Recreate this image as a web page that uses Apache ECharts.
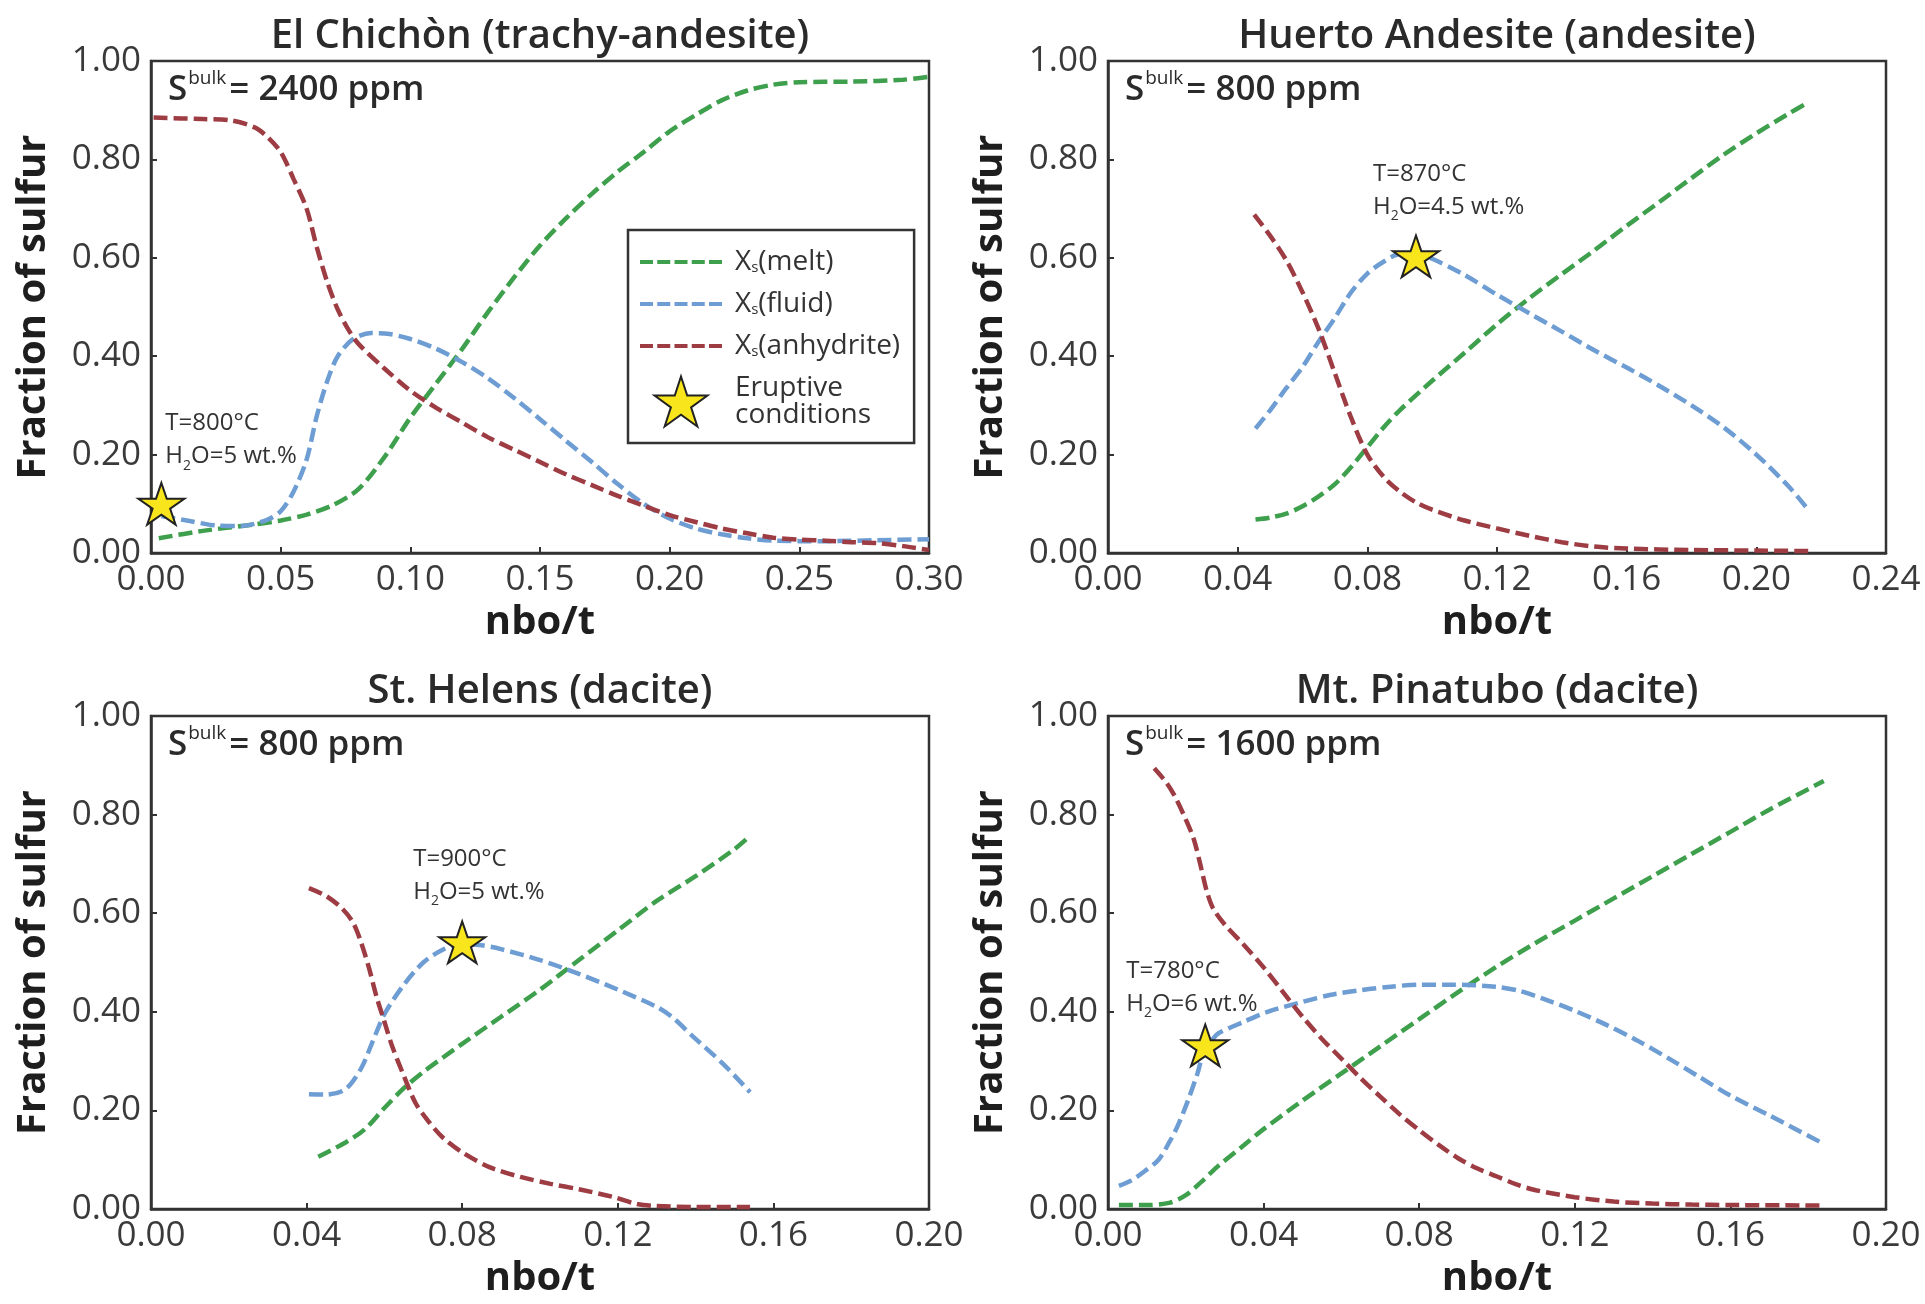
<!DOCTYPE html>
<html>
<head>
<meta charset="utf-8">
<title>Sulfur partitioning vs nbo/t</title>
<script src="https://cdn.jsdelivr.net/npm/echarts/dist/echarts.min.js"></script>
<style>
  html, body { margin: 0; padding: 0; background: #ffffff; }
  #chart { width: 1925px; height: 1304px; }
</style>
</head>
<body>
<div id="chart"></div>
<script>
// ---------------- data ----------------
const panelTitles = ['El Chichòn (trachy-andesite)', 'Huerto Andesite (andesite)', 'St. Helens (dacite)', 'Mt. Pinatubo (dacite)'];
const bulkSulfurPpm = ['2400', '800', '800', '1600'];
const xMaxValues = [0.30, 0.24, 0.20, 0.20];
const xIntervals = [0.05, 0.04, 0.04, 0.04];
const yTickStep = 0.2;

// El Chichòn
const chichonMelt = [[0.003,0.030],[0.02,0.045],[0.04,0.058],[0.05,0.066],[0.06,0.078],[0.07,0.097],[0.08,0.130],[0.09,0.195],[0.10,0.275],[0.11,0.345],[0.12,0.415],[0.13,0.49],[0.14,0.56],[0.15,0.625],[0.16,0.68],[0.17,0.73],[0.18,0.775],[0.19,0.815],[0.20,0.857],[0.21,0.89],[0.22,0.92],[0.23,0.94],[0.24,0.952],[0.25,0.957],[0.27,0.958],[0.29,0.962],[0.30,0.968]];
const chichonFluid = [[0.004,0.075],[0.015,0.065],[0.025,0.056],[0.035,0.055],[0.045,0.068],[0.05,0.085],[0.055,0.125],[0.06,0.19],[0.064,0.28],[0.068,0.35],[0.072,0.40],[0.078,0.435],[0.085,0.447],[0.092,0.445],[0.10,0.435],[0.11,0.415],[0.12,0.388],[0.13,0.355],[0.14,0.315],[0.15,0.272],[0.16,0.228],[0.17,0.185],[0.18,0.14],[0.19,0.10],[0.20,0.07],[0.21,0.05],[0.22,0.038],[0.23,0.03],[0.24,0.025],[0.26,0.024],[0.28,0.026],[0.30,0.028]];
const chichonAnhydrite = [[0.001,0.885],[0.02,0.882],[0.03,0.88],[0.04,0.865],[0.045,0.845],[0.05,0.815],[0.055,0.76],[0.06,0.70],[0.064,0.62],[0.068,0.55],[0.072,0.495],[0.076,0.455],[0.08,0.425],[0.09,0.375],[0.10,0.33],[0.11,0.295],[0.12,0.265],[0.13,0.235],[0.14,0.21],[0.15,0.185],[0.16,0.16],[0.17,0.138],[0.18,0.116],[0.19,0.096],[0.20,0.077],[0.21,0.063],[0.22,0.05],[0.23,0.04],[0.24,0.031],[0.25,0.027],[0.26,0.025],[0.27,0.022],[0.28,0.02],[0.29,0.014],[0.30,0.006]];

// Huerto Andesite
const huertoMelt = [[0.0455,0.068],[0.05,0.072],[0.055,0.08],[0.06,0.095],[0.065,0.115],[0.07,0.14],[0.075,0.175],[0.08,0.215],[0.085,0.255],[0.09,0.29],[0.10,0.35],[0.11,0.407],[0.12,0.465],[0.13,0.518],[0.14,0.567],[0.15,0.615],[0.16,0.665],[0.17,0.713],[0.18,0.762],[0.19,0.81],[0.20,0.853],[0.21,0.893],[0.216,0.916]];
const huertoFluid = [[0.0455,0.253],[0.05,0.29],[0.055,0.335],[0.06,0.378],[0.065,0.43],[0.07,0.478],[0.075,0.53],[0.08,0.568],[0.085,0.592],[0.09,0.607],[0.095,0.607],[0.10,0.598],[0.11,0.565],[0.12,0.525],[0.13,0.487],[0.14,0.45],[0.15,0.412],[0.16,0.377],[0.17,0.34],[0.18,0.3],[0.19,0.255],[0.20,0.2],[0.21,0.135],[0.216,0.088]];
const huertoAnhydrite = [[0.0451,0.688],[0.05,0.645],[0.055,0.595],[0.06,0.53],[0.065,0.455],[0.07,0.365],[0.075,0.275],[0.08,0.2],[0.085,0.155],[0.09,0.125],[0.095,0.103],[0.10,0.088],[0.11,0.066],[0.12,0.05],[0.13,0.035],[0.14,0.022],[0.15,0.013],[0.16,0.009],[0.18,0.006],[0.20,0.005],[0.216,0.004]];

// St. Helens
const helensMelt = [[0.043,0.106],[0.05,0.135],[0.055,0.162],[0.06,0.205],[0.065,0.245],[0.07,0.278],[0.08,0.335],[0.09,0.39],[0.10,0.445],[0.11,0.505],[0.12,0.565],[0.13,0.625],[0.14,0.675],[0.15,0.73],[0.154,0.757]];
const helensFluid = [[0.0406,0.233],[0.045,0.232],[0.05,0.243],[0.054,0.285],[0.057,0.34],[0.06,0.395],[0.065,0.455],[0.07,0.5],[0.075,0.526],[0.08,0.537],[0.085,0.535],[0.09,0.527],[0.10,0.505],[0.11,0.477],[0.12,0.445],[0.13,0.41],[0.134,0.389],[0.14,0.345],[0.147,0.295],[0.154,0.237]];
const helensAnhydrite = [[0.0406,0.651],[0.045,0.635],[0.0492,0.609],[0.052,0.58],[0.054,0.541],[0.056,0.49],[0.058,0.43],[0.06,0.38],[0.062,0.33],[0.065,0.27],[0.068,0.215],[0.0713,0.178],[0.075,0.145],[0.08,0.115],[0.087,0.085],[0.095,0.065],[0.1027,0.051],[0.11,0.04],[0.1185,0.025],[0.125,0.01],[0.13,0.006],[0.14,0.004],[0.154,0.004]];

// Mt. Pinatubo
const pinatuboMelt = [[0.0028,0.008],[0.01,0.008],[0.016,0.013],[0.02,0.028],[0.024,0.055],[0.028,0.085],[0.035,0.13],[0.04,0.162],[0.05,0.22],[0.06,0.275],[0.07,0.33],[0.08,0.385],[0.09,0.44],[0.10,0.492],[0.11,0.54],[0.12,0.585],[0.13,0.63],[0.14,0.675],[0.15,0.72],[0.16,0.765],[0.17,0.81],[0.184,0.868]];
const pinatuboFluid = [[0.0028,0.047],[0.006,0.058],[0.0095,0.077],[0.013,0.1],[0.0158,0.136],[0.018,0.17],[0.0206,0.221],[0.023,0.275],[0.0245,0.315],[0.027,0.345],[0.0285,0.357],[0.035,0.38],[0.041,0.40],[0.05,0.42],[0.057,0.434],[0.065,0.444],[0.0727,0.451],[0.08,0.455],[0.0885,0.455],[0.0996,0.451],[0.106,0.442],[0.112,0.426],[0.12,0.402],[0.128,0.374],[0.136,0.342],[0.144,0.306],[0.152,0.268],[0.16,0.23],[0.17,0.19],[0.184,0.132]];
const pinatuboAnhydrite = [[0.0119,0.894],[0.015,0.865],[0.0174,0.834],[0.02,0.79],[0.0221,0.749],[0.024,0.69],[0.0253,0.647],[0.027,0.61],[0.03,0.577],[0.035,0.535],[0.04,0.49],[0.045,0.44],[0.05,0.39],[0.055,0.345],[0.06,0.305],[0.065,0.265],[0.07,0.228],[0.075,0.192],[0.08,0.16],[0.085,0.13],[0.09,0.103],[0.095,0.082],[0.10,0.066],[0.105,0.05],[0.11,0.038],[0.12,0.024],[0.13,0.015],[0.14,0.011],[0.15,0.009],[0.16,0.008],[0.184,0.007]];

// Eruptive conditions (one per panel)
const eruptivePoints = [[0.004,0.10],[0.095,0.603],[0.08,0.541],[0.025,0.332]];
const eruptiveTemperatureC = ['800', '870', '900', '780'];
const eruptiveWaterWt = ['5', '4.5', '5', '6'];

const meltSets = [chichonMelt, huertoMelt, helensMelt, pinatuboMelt];
const fluidSets = [chichonFluid, huertoFluid, helensFluid, pinatuboFluid];
const anhydriteSets = [chichonAnhydrite, huertoAnhydrite, helensAnhydrite, pinatuboAnhydrite];

// ---------------- layout & style ----------------
const FONT = '"Open Sans", "Noto Sans", "DejaVu Sans", sans-serif';
const INK = '#333333';
const COLOR_MELT = '#3e9f4c';
const COLOR_FLUID = '#6d9dd3';
const COLOR_ANHYDRITE = '#9e3c43';
const STAR_FILL = '#f8e51c';
const STAR = 'path://M50,2 L61.2,36.2 L97.6,36.2 L68.2,57.6 L79.4,92 L50,70.8 L20.6,92 L31.8,57.6 L2.4,36.2 L38.8,36.2 Z';
const DASH_ICON = 'path://M0,0h13v4h-13zM17.25,0h13v4h-13zM34.5,0h13v4h-13zM51.75,0h13v4h-13zM69,0h13v4h-13z';
const LINE_WIDTH = 4.5;
const LINE_DASH = [14, 6];

const GRIDS = [
  { left: 151, top: 61, width: 778, height: 492 },
  { left: 1108, top: 61, width: 778, height: 492 },
  { left: 151, top: 716, width: 778, height: 493 },
  { left: 1108, top: 716, width: 778, height: 493 }
];
// annotation offset from each star centre (px)
const NOTE_OFFSETS = [[4, -64], [-43, -66], [-49, -67], [-79, -58]];

const NAME_MELT = 'Xs(melt)';
const NAME_FLUID = 'Xs(fluid)';
const NAME_ANHYDRITE = 'Xs(anhydrite)';
const NAME_ERUPTIVE = 'Eruptive conditions';
const LEGEND_TEXT = {};
LEGEND_TEXT[NAME_MELT] = 'X{sub|s}(melt)';
LEGEND_TEXT[NAME_FLUID] = 'X{sub|s}(fluid)';
LEGEND_TEXT[NAME_ANHYDRITE] = 'X{sub|s}(anhydrite)';
LEGEND_TEXT[NAME_ERUPTIVE] = 'Eruptive\nconditions';

const fmt2 = v => v.toFixed(2);

const grids = [], xAxes = [], yAxes = [], series = [], graphics = [];

GRIDS.forEach((g, i) => {
  grids.push(Object.assign({
    show: true, borderColor: INK, borderWidth: 2.5, backgroundColor: 'transparent',
    containLabel: false, outerBoundsMode: 'none'
  }, g));

  xAxes.push({
    type: 'value', gridIndex: i, min: 0, max: xMaxValues[i], interval: xIntervals[i],
    name: 'nbo/t', nameLocation: 'middle', nameGap: 50,
    nameTextStyle: { fontFamily: FONT, fontSize: 40, fontWeight: 'bold', color: '#1e1e1e' },
    axisLine: { show: true, onZero: false, lineStyle: { color: INK, width: 2.5 } },
    axisTick: { show: true, inside: true, length: 6, lineStyle: { color: INK, width: 2 } },
    axisLabel: { show: true, margin: 10, formatter: fmt2, fontFamily: FONT, fontSize: 35, color: '#3a3a3a' },
    splitLine: { show: false }
  });

  yAxes.push({
    type: 'value', gridIndex: i, min: 0, max: 1, interval: yTickStep,
    name: 'Fraction of sulfur', nameLocation: 'middle', nameGap: 97,
    nameTextStyle: { fontFamily: FONT, fontSize: 40, fontWeight: 'bold', color: '#1e1e1e' },
    axisLine: { show: true, onZero: false, lineStyle: { color: INK, width: 2.5 } },
    axisTick: { show: true, inside: true, length: 6, lineStyle: { color: INK, width: 2 } },
    axisLabel: { show: true, margin: 10, formatter: fmt2, fontFamily: FONT, fontSize: 35, color: '#3a3a3a' },
    splitLine: { show: false }
  });

  const lineCommon = {
    type: 'line', xAxisIndex: i, yAxisIndex: i, showSymbol: false, symbol: 'none',
    smooth: 0.3, animation: false, silent: true
  };
  series.push(Object.assign({}, lineCommon, {
    name: NAME_MELT, data: meltSets[i], z: 3,
    itemStyle: { color: COLOR_MELT },
    lineStyle: { color: COLOR_MELT, width: LINE_WIDTH, type: LINE_DASH }
  }));
  series.push(Object.assign({}, lineCommon, {
    name: NAME_FLUID, data: fluidSets[i], z: 4,
    itemStyle: { color: COLOR_FLUID },
    lineStyle: { color: COLOR_FLUID, width: LINE_WIDTH, type: LINE_DASH }
  }));
  series.push(Object.assign({}, lineCommon, {
    name: NAME_ANHYDRITE, data: anhydriteSets[i], z: 5,
    itemStyle: { color: COLOR_ANHYDRITE },
    lineStyle: { color: COLOR_ANHYDRITE, width: LINE_WIDTH, type: LINE_DASH }
  }));

  series.push({
    type: 'scatter', name: NAME_ERUPTIVE, xAxisIndex: i, yAxisIndex: i,
    data: [eruptivePoints[i]], symbol: STAR, symbolSize: [46, 44], symbolKeepAspect: true,
    itemStyle: { color: STAR_FILL, borderColor: '#222222', borderWidth: 2, opacity: 1 },
    z: 10, animation: false,
    label: {
      show: true, position: 'inside', align: 'left', verticalAlign: 'middle',
      offset: NOTE_OFFSETS[i],
      fontFamily: FONT, fontSize: 24, lineHeight: 33, color: '#333333',
      formatter: 'T=' + eruptiveTemperatureC[i] + '°C\nH{sub|2}O=' + eruptiveWaterWt[i] + ' wt.%',
      rich: {
        sub: { fontFamily: FONT, fontSize: 14, lineHeight: 14, verticalAlign: 'bottom', color: '#333333' }
      }
    }
  });

  // panel title
  graphics.push({
    type: 'text', x: g.left + g.width / 2, y: g.top - 24, silent: true,
    style: {
      text: panelTitles[i], align: 'center', verticalAlign: 'middle',
      fontFamily: FONT, fontSize: 40, fontWeight: 600, fill: '#2a2a2a'
    }
  });
  // bulk sulfur note inside the frame
  graphics.push({
    type: 'text', x: g.left + 17, y: g.top + 29, silent: true, z: 20,
    style: {
      text: '{s|S}{sup|bulk}{s|= ' + bulkSulfurPpm[i] + ' ppm}',
      align: 'left', verticalAlign: 'middle',
      rich: {
        s: { fontFamily: FONT, fontSize: 35, fontWeight: 600, fill: '#2a2a2a', lineHeight: 42 },
        sup: { fontFamily: FONT, fontSize: 19, fontWeight: 500, fill: '#2a2a2a', lineHeight: 22, verticalAlign: 'top', padding: [0, 3, 0, 1] }
      }
    }
  });
});

const option = {
  backgroundColor: '#ffffff',
  animation: false,
  grid: grids,
  xAxis: xAxes,
  yAxis: yAxes,
  series: series,
  graphic: graphics,
  legend: {
    show: true,
    orient: 'vertical',
    left: 628, top: 230,
    padding: [18, 14, 14, 12],
    borderColor: INK, borderWidth: 2.5, backgroundColor: '#ffffff',
    itemWidth: 82, itemHeight: 50, itemGap: 14,
    z: 30,
    textStyle: {
      fontFamily: FONT, fontSize: 28, color: '#333333', lineHeight: 27,
      padding: [0, 0, 0, 8],
      rich: {
        sub: { fontFamily: FONT, fontSize: 15, lineHeight: 10, verticalAlign: 'bottom', color: '#333333' }
      }
    },
    formatter: name => LEGEND_TEXT[name],
    data: [
      { name: NAME_MELT, icon: DASH_ICON, itemStyle: { borderWidth: 0 } },
      { name: NAME_FLUID, icon: DASH_ICON, itemStyle: { borderWidth: 0 } },
      { name: NAME_ANHYDRITE, icon: DASH_ICON, itemStyle: { borderWidth: 0 } },
      { name: NAME_ERUPTIVE, icon: STAR, itemStyle: { color: STAR_FILL, borderColor: '#222222', borderWidth: 2 } }
    ]
  }
};

const chart = echarts.init(document.getElementById('chart'), null, { renderer: 'canvas' });
chart.setOption(option);
</script>
</body>
</html>
